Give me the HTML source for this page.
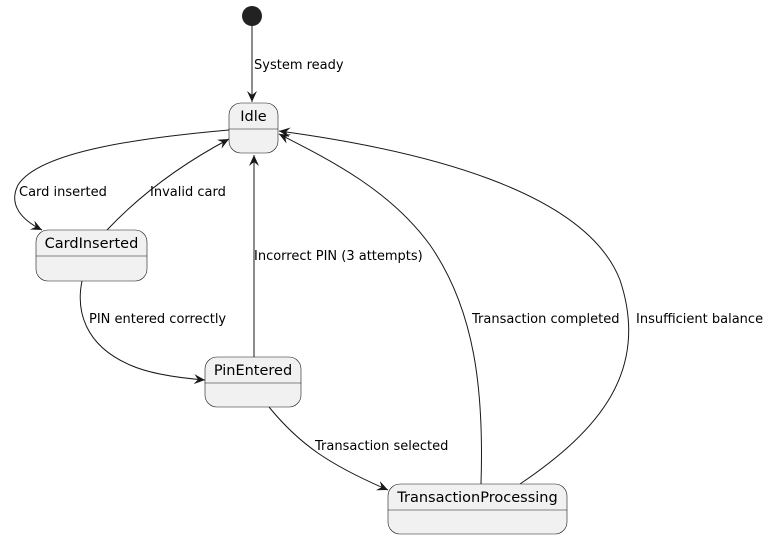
<!DOCTYPE html>
<html><head><meta charset="utf-8"><style>
html,body{margin:0;padding:0;background:#fff;}
svg{display:block;}
text{font-family:"DejaVu Sans","Liberation Sans",sans-serif;fill:#000;}
</style></head><body>
<svg width="770" height="539" viewBox="0 0 770 539" xmlns="http://www.w3.org/2000/svg">
<defs>
<marker id="a" markerWidth="13" markerHeight="11" refX="11" refY="5" orient="auto" markerUnits="userSpaceOnUse">
<path d="M0,0 L11,5 L0,10 L4,5 z" fill="#181818"/>
</marker>
</defs>
<g fill="none" stroke="#181818" stroke-width="1">
<path d="M252,26 L252,102" marker-end="url(#a)"/>
<path d="M229,130 C150,137 40,150 18,185 C8,205 22,220 42,230" marker-end="url(#a)"/>
<path d="M107,230 C140,195 180,165 229,139" marker-end="url(#a)"/>
<path d="M82,281 C76,310 84,345 130,365 C150,374 180,378 205,380" marker-end="url(#a)"/>
<path d="M254,357 L254,155" marker-end="url(#a)"/>
<path d="M269,407 C300,445 330,465 388,490" marker-end="url(#a)"/>
<path d="M481,484 C484,390 475,310 430,245 C390,190 330,160 279,134" marker-end="url(#a)"/>
<path d="M520,484 C600,430 650,370 620,280 C585,190 420,150 279,131" marker-end="url(#a)"/>
</g>
<circle cx="252" cy="16" r="10" fill="#222"/>
<g fill="#f1f1f1" stroke="#181818" stroke-width="0.6">
<rect x="229" y="103" width="49" height="50" rx="12"/>
<rect x="36" y="230" width="111" height="51" rx="12"/>
<rect x="205" y="357" width="96" height="50" rx="12"/>
<rect x="388" y="484" width="179" height="50" rx="12"/>
</g>
<g stroke="#181818" stroke-width="0.6">
<line x1="229" y1="129" x2="278" y2="129"/>
<line x1="36" y1="256" x2="147" y2="256"/>
<line x1="205" y1="383" x2="301" y2="383"/>
<line x1="388" y1="510" x2="567" y2="510"/>
</g>
<g font-size="14.5" text-anchor="middle">
<text x="253.5" y="121">Idle</text>
<text x="91.5" y="248">CardInserted</text>
<text x="253" y="375">PinEntered</text>
<text x="477.5" y="502">TransactionProcessing</text>
</g>
<g font-size="13">
<text x="254" y="69">System ready</text>
<text x="19" y="196">Card inserted</text>
<text x="150" y="196">Invalid card</text>
<text x="89" y="323">PIN entered correctly</text>
<text x="254" y="260">Incorrect PIN (3 attempts)</text>
<text x="315" y="450">Transaction selected</text>
<text x="472" y="323">Transaction completed</text>
<text x="636" y="323">Insufficient balance</text>
</g>
</svg>
</body></html>
